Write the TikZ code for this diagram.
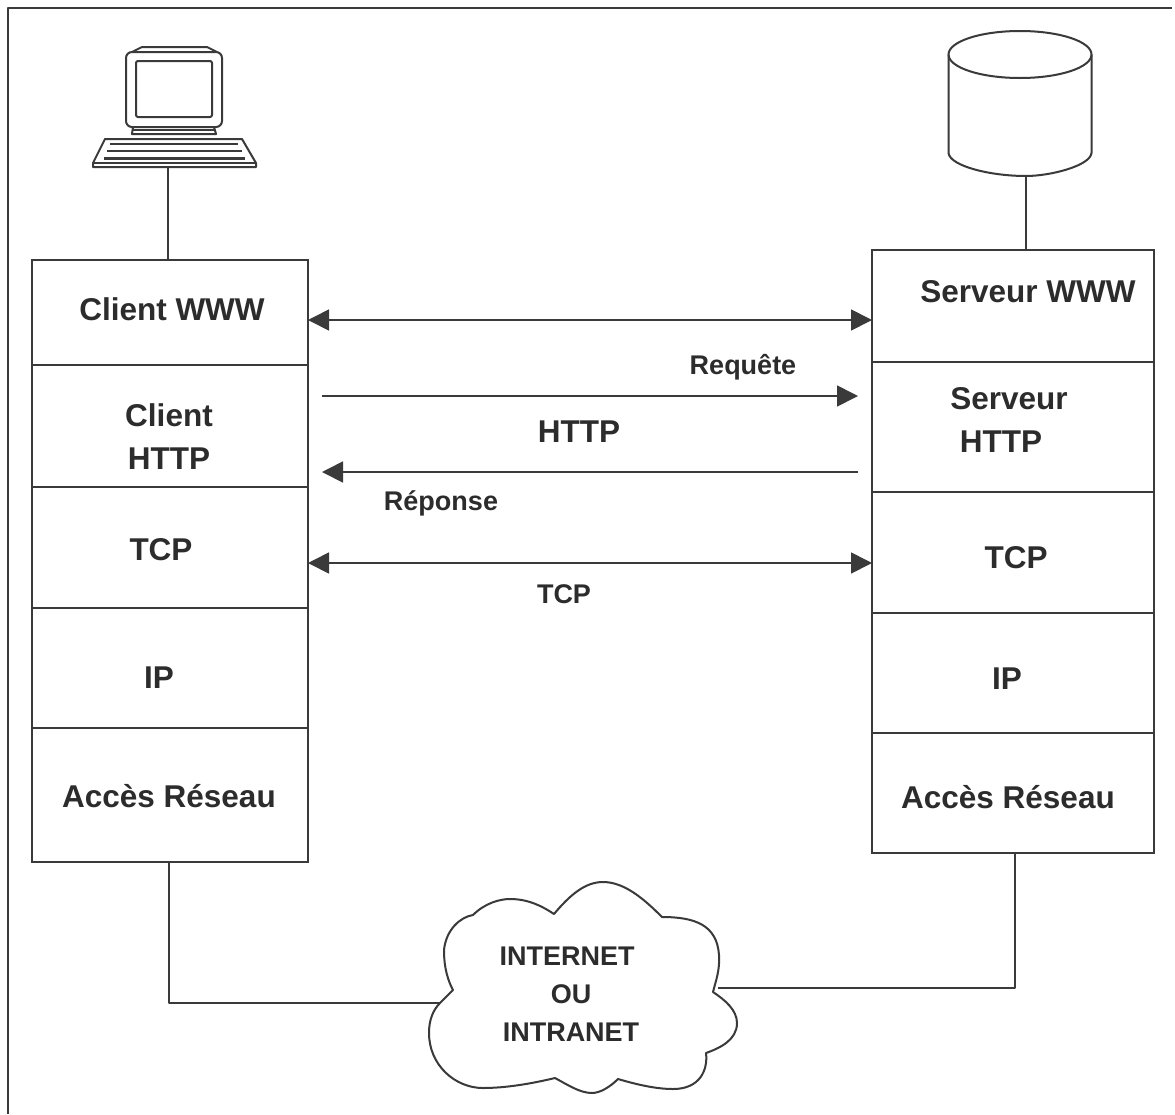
\documentclass[tikz,border=0pt]{standalone}
\usepackage{fontspec}
\setmainfont{Liberation Sans}
\usetikzlibrary{arrows.meta}
\definecolor{ink}{HTML}{3A3A3A}
\definecolor{inktext}{HTML}{2C2C2C}
\tikzset{
  line/.style={draw=ink,line width=2pt,line join=round},
  thin line/.style={draw=ink,line width=1.7pt,line join=round},
  layer/.style={draw=ink,line width=1.7pt,fill=white,minimum width=#1,inner sep=0pt,outer sep=0pt,anchor=north west},
  big/.style={text=inktext,font=\fontsize{31.5}{36}\selectfont\bfseries,align=center,inner sep=0pt},
  small/.style={text=inktext,font=\fontsize{27}{32}\selectfont\bfseries,align=center,inner sep=0pt},
  biarrow/.style={thin line,{Triangle[length=21pt,width=21pt]}-{Triangle[length=21pt,width=21pt]}},
  oneway/.style={thin line,-{Triangle[length=21pt,width=21pt]}}
}
\begin{document}
\begin{tikzpicture}[x=1pt,y=-1pt]
\useasboundingbox (0,0) rectangle (1175,1114);
\fill[white] (0,0) rectangle (1175,1114);
% outer frame
\coordinate (f1) at (8,8); \coordinate (f2) at (1172,8);
\coordinate (f4) at (8,1114);
\draw[line,line width=2.4pt] (f4) -- (f1) -- (f2);
% left stack
\node[layer=276pt,minimum height=105pt] (c1) at (32,260) {};
\node[layer=276pt,minimum height=122pt] (c2) at (32,365) {};
\node[layer=276pt,minimum height=121pt] (c3) at (32,487) {};
\node[layer=276pt,minimum height=120pt] (c4) at (32,608) {};
\node[layer=276pt,minimum height=134pt] (c5) at (32,728) {};
% right stack
\node[layer=282pt,minimum height=112pt] (s1) at (872,250) {};
\node[layer=282pt,minimum height=130pt] (s2) at (872,362) {};
\node[layer=282pt,minimum height=121pt] (s3) at (872,492) {};
\node[layer=282pt,minimum height=120pt] (s4) at (872,613) {};
\node[layer=282pt,minimum height=120pt] (s5) at (872,733) {};
% labels
\node[big] (t1) at (172,309) {Client WWW};
\node[big,text width=120pt] (t2) at (169,437) {Client\\[7pt]HTTP};
\node[big] (t3) at (161,550) {TCP};
\node[big] (t4) at (159,678) {IP};
\node[big] (t5) at (169,796) {Accès Réseau};
\node[big] (u1) at (1028,292) {Serveur WWW};
\node[big,text width=140pt] (u2) at (1009,420) {Serveur\\[7pt]HTTP\hspace*{16pt}};
\node[big] (u3) at (1016,558) {TCP};
\node[big] (u4) at (1007,679) {IP};
\node[big] (u5) at (1008,797) {Accès Réseau};
\node[big] (http) at (579,432) {HTTP};
\node[small] (req) at (743,367) {Requête};
\node[small] (rep) at (441,503) {Réponse};
\node[small] (tcpl) at (564,594) {TCP};
% horizontal arrows
\coordinate (a1) at (322,396); \coordinate (a2) at (858,396);
\coordinate (b1) at (858,472); \coordinate (b2) at (322,472);
\draw[biarrow] (c1.east |- 0,320) -- (s1.west |- 0,320);
\draw[oneway] (a1) -- (a2);
\draw[oneway] (b1) -- (b2);
\draw[biarrow] (c3.east |- 0,563) -- (s3.west |- 0,563);
% computer
\coordinate (pc) at (168,167);
\draw[line,rounded corners=6pt] (126,52) rectangle (222,127);
\draw[line,rounded corners=2pt] (136,61) rectangle (212,117);
\draw[line] (132,52) -- (142,47) -- (207,47) -- (217,52);
\draw[line] (133,127) -- (132,134) -- (216,134) -- (214,127);
\draw[thin line] (133,130) -- (215,130);
\draw[line] (105,139) -- (242,139) -- (256,163) -- (256,167) -- (93,167) -- (93,163) -- cycle;
\draw[thin line] (93,163) -- (256,163);
\draw[thin line,line width=2pt] (110,144) -- (238,144);
\draw[thin line,line width=2pt] (107,151) -- (242,151);
\draw[line,line width=3pt] (104,158) -- (245,158);
\draw[thin line] (pc) -- (c1.north -| pc);
% database
\coordinate (db) at (1026,176);
\draw[line] (1020,54.5) ellipse [x radius=71.5, y radius=23.5];
\draw[line] (948.5,54.5) -- (948.5,153) .. controls (950,166) and (990,176) .. (db)
  .. controls (1050,176) and (1090,166) .. (1091.5,153) -- (1091.5,54.5);
\draw[thin line] (db) -- (s1.north -| db);
% cloud
\coordinate (cl) at (440,1003);
\coordinate (cr) at (718,988);
\draw[line,fill=white] (554,914) .. controls (570,895) and (585,882) .. (603,882)
  .. controls (625,882) and (645,900) .. (662,917)
  .. controls (695,917) and (717,925) .. (719,955)
  .. controls (720,970) and (716,980) .. (713,992)
  .. controls (725,1000) and (737,1010) .. (737,1023)
  .. controls (737,1040) and (720,1048) .. (706,1053)
  .. controls (708,1070) and (700,1089) .. (673,1089)
  .. controls (655,1089) and (635,1084) .. (618,1079)
  .. controls (610,1087) and (600,1093) .. (592,1093)
  .. controls (580,1093) and (568,1085) .. (555,1078)
  .. controls (530,1084) and (505,1088) .. (483,1088)
  .. controls (455,1088) and (429,1065) .. (429,1033)
  .. controls (429,1020) and (433,1010) .. (440,1003)
  -- (453,990)
  .. controls (445,975) and (444,960) .. (444,950)
  .. controls (446,930) and (460,917) .. (473,915)
  .. controls (485,903) and (500,899) .. (510,899)
  .. controls (528,899) and (542,906) .. (554,914) -- cycle;
\node[small] (n1) at (567,956) {INTERNET};
\node[small] (n2) at (571,994) {OU};
\node[small] (n3) at (571,1032) {INTRANET};
\draw[thin line] (c5.south -| 169,0) -- (169,1003) -- (cl);
\draw[thin line] (s5.south -| 1015,0) -- (1015,988) -- (cr);
\end{tikzpicture}
\end{document}
